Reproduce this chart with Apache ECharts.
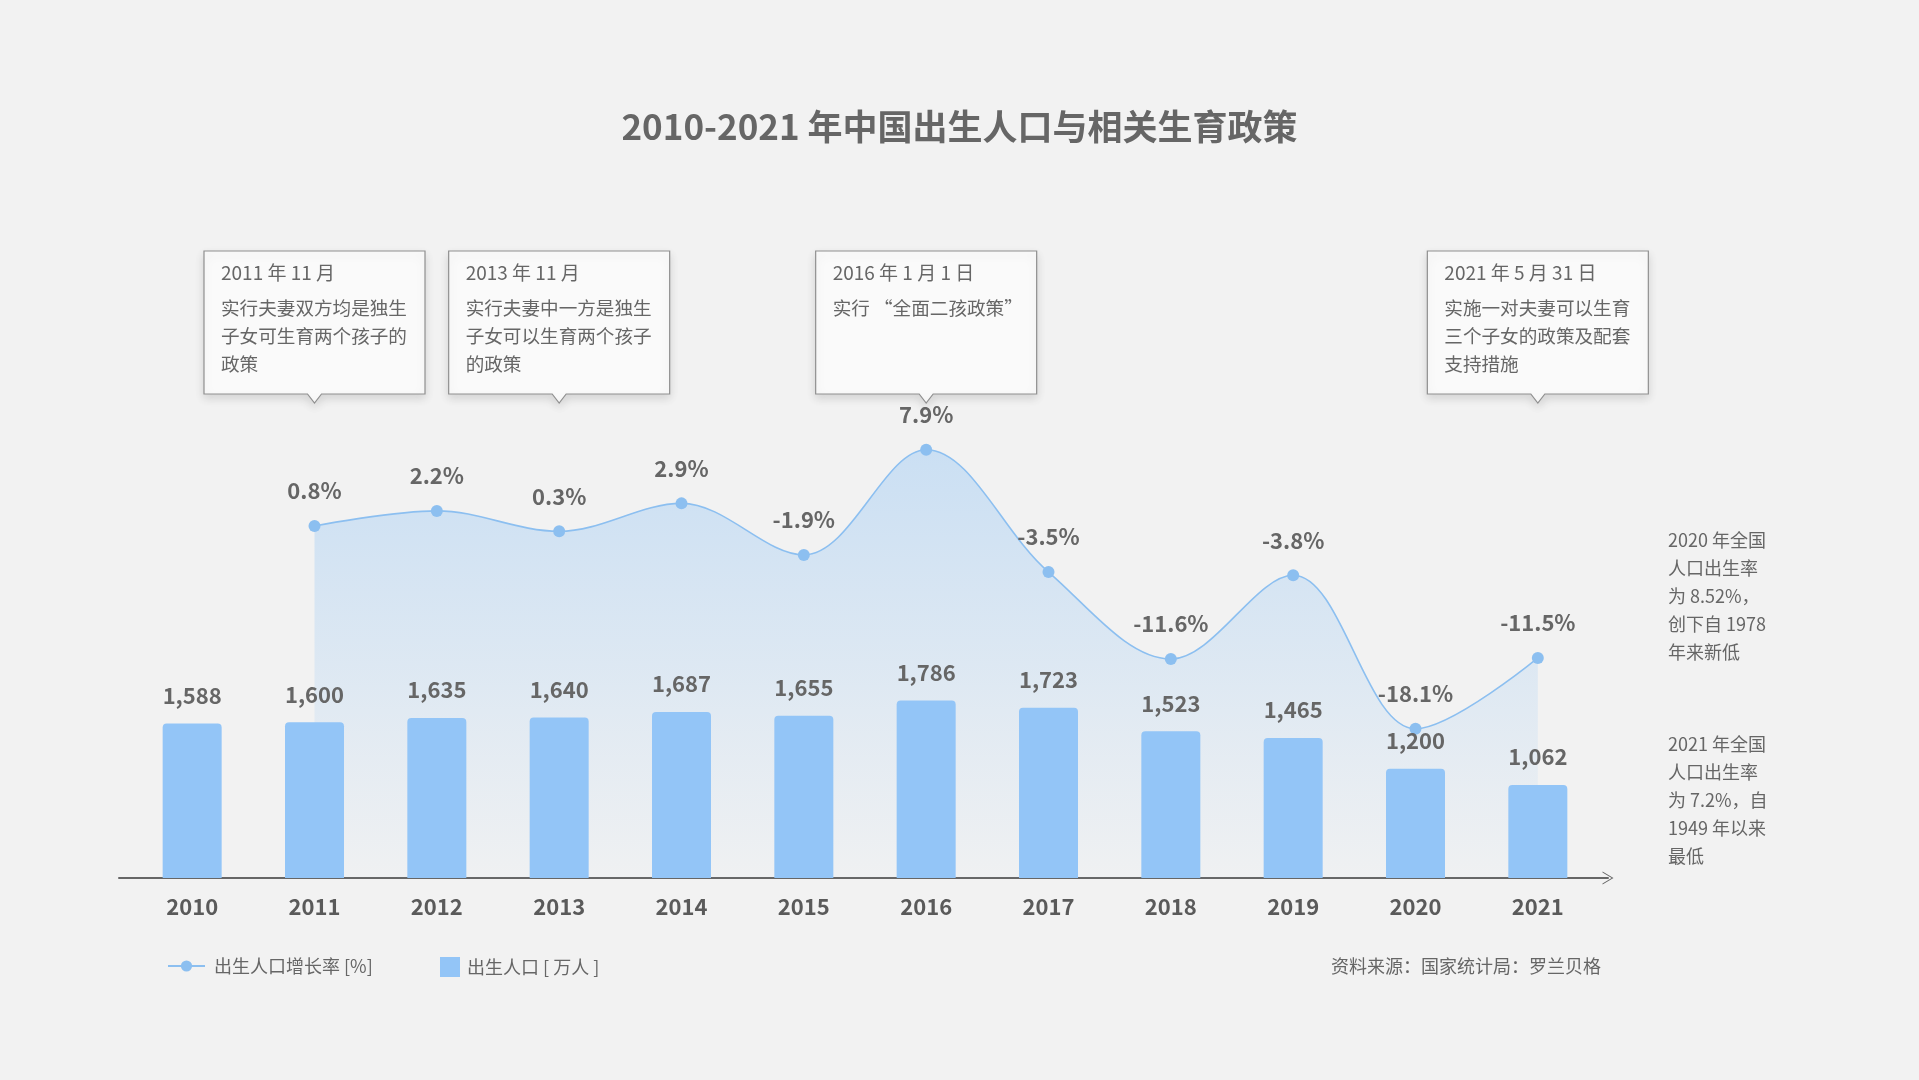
<!DOCTYPE html>
<html>
<head>
<meta charset="utf-8">
<title>2010-2021 年中国出生人口与相关生育政策</title>
<script src="https://cdn.jsdelivr.net/npm/echarts@6/dist/echarts.min.js"></script>
<style>
  html, body { margin: 0; padding: 0; background: #f2f2f2; }
  #chart { width: 1919px; height: 1080px; }
</style>
</head>
<body>
<div id="chart"></div>
<script>
// data
const years = ['2010', '2011', '2012', '2013', '2014', '2015', '2016', '2017', '2018', '2019', '2020', '2021'];
const births = [1588, 1600, 1635, 1640, 1687, 1655, 1786, 1723, 1523, 1465, 1200, 1062];
const growth = [null, 0.8, 2.2, 0.3, 2.9, -1.9, 7.9, -3.5, -11.6, -3.8, -18.1, -11.5];

// policy callouts
const policyYears = ['2011', '2013', '2016', '2021'];
const policyDates = ['2011 年 11 月', '2013 年 11 月', '2016 年 1 月 1 日', '2021 年 5 月 31 日'];
const policyTexts = [
  '实行夫妻双方均是独生\n子女可生育两个孩子的\n政策',
  '实行夫妻中一方是独生\n子女可以生育两个孩子\n的政策',
  '实行 “全面二孩政策”',
  '实施一对夫妻可以生育\n三个子女的政策及配套\n支持措施'
];

// side notes
const note2020 = ['2020 年全国', '人口出生率', '为 8.52%，', '创下自 1978', '年来新低'];
const note2021 = ['2021 年全国', '人口出生率', '为 7.2%，自', '1949 年以来', '最低'];

const FONT = '"Noto Sans CJK SC", "Noto Sans", sans-serif';
const TEXT = '#666';
const BLUE = '#93c5f7';
const LINE = '#8cbff0';

const chart = echarts.init(document.getElementById('chart'));

// callout box drawn over its year's category
function renderPolicy(params, api) {
  const i = params.dataIndex;
  const cx = api.coord([api.value(0), 0])[0];
  const w = 221, h = 143;
  const top = params.coordSys.y + 60;
  const l = cx - w / 2, b = top + h;
  return {
    type: 'group',
    children: [
      {
        type: 'polygon',
        shape: { points: [[l, top], [l + w, top], [l + w, b], [cx + 7, b], [cx, b + 9], [cx - 7, b], [l, b]] },
        style: {
          fill: '#fafafa', stroke: '#8f8f8f', lineWidth: 1.2,
          shadowBlur: 10, shadowColor: 'rgba(0,0,0,0.13)', shadowOffsetY: 4
        }
      },
      {
        type: 'text',
        style: {
          text: policyDates[i], x: l + 17, y: top + 12,
          fill: TEXT, fontSize: 19, fontFamily: FONT, align: 'left', verticalAlign: 'top'
        }
      },
      {
        type: 'text',
        style: {
          text: policyTexts[i], x: l + 17, y: top + 43, lineHeight: 28,
          fill: TEXT, fontSize: 18.6, fontFamily: FONT, align: 'left', verticalAlign: 'top'
        }
      }
    ]
  };
}

const option = {
  backgroundColor: '#f2f2f2',
  textStyle: { fontFamily: FONT },
  animation: false,
  title: {
    text: '2010-2021 年中国出生人口与相关生育政策',
    left: 'center',
    top: 104,
    textStyle: { fontSize: 35, fontWeight: 'bold', color: TEXT, fontFamily: FONT }
  },
  legend: [
    {
      data: ['出生人口增长率 [%]'],
      left: 162, top: 952,
      itemWidth: 37, itemHeight: 14,
      textStyle: { fontSize: 18, color: TEXT, fontFamily: FONT, padding: [0, 0, 0, 4] }
    },
    {
      data: ['出生人口 [ 万人 ]'],
      left: 435, top: 952,
      icon: 'rect',
      itemWidth: 20, itemHeight: 20,
      textStyle: { fontSize: 18, color: TEXT, fontFamily: FONT, padding: [0, 0, 0, 2] }
    }
  ],
  grid: [
    { left: 131, right: 320, top: 191, bottom: 202 },
    { left: 119, right: 311, top: 191, bottom: 202 }
  ],
  xAxis: [
    {
      type: 'category',
      gridIndex: 0,
      data: years,
      axisLine: { show: false },
      axisTick: { show: false },
      axisLabel: { margin: 18, fontSize: 22, fontWeight: 'bold', color: '#5a5a5a', fontFamily: FONT }
    },
    {
      // baseline with the arrow at its end
      type: 'value',
      gridIndex: 1,
      min: 0, max: 1,
      axisLine: {
        show: true,
        symbol: ['none', 'path://M0,12 L7,0 L14,12 L13,12 L7,2 L1,12 Z'],
        symbolSize: [14, 11],
        lineStyle: { color: '#666', width: 2 }
      },
      axisTick: { show: false },
      axisLabel: { show: false },
      splitLine: { show: false }
    }
  ],
  yAxis: [
    { type: 'value', gridIndex: 0, min: 265, max: 6150, show: false, splitLine: { show: false } },
    { type: 'value', gridIndex: 0, min: -32, max: 32, show: false, splitLine: { show: false } },
    { type: 'value', gridIndex: 1, min: 0, max: 1, show: false, splitLine: { show: false } }
  ],
  series: [
    {
      name: '出生人口 [ 万人 ]',
      type: 'bar',
      xAxisIndex: 0,
      yAxisIndex: 0,
      data: births,
      barWidth: 59,
      z: 3,
      itemStyle: { color: BLUE, borderRadius: [4, 4, 0, 0] },
      label: {
        show: true,
        position: 'top',
        distance: 17,
        fontSize: 22,
        fontWeight: 'bold',
        color: TEXT,
        fontFamily: FONT,
        formatter: p => p.value.toLocaleString('en-US')
      }
    },
    {
      name: '出生人口增长率 [%]',
      type: 'line',
      xAxisIndex: 0,
      yAxisIndex: 1,
      data: growth,
      smooth: 0.35,
      z: 2,
      symbol: 'circle',
      symbolSize: 12,
      itemStyle: { color: LINE },
      lineStyle: { color: LINE, width: 1.6 },
      areaStyle: {
        origin: 'start',
        color: new echarts.graphic.LinearGradient(0, 0, 0, 1, [
          { offset: 0, color: 'rgba(145,196,245,0.58)' },
          { offset: 1, color: 'rgba(145,196,245,0.04)' }
        ])
      },
      label: {
        show: true,
        position: 'top',
        distance: 18,
        fontSize: 22,
        fontWeight: 'bold',
        color: TEXT,
        fontFamily: FONT,
        formatter: p => p.value.toFixed(1) + '%'
      }
    },
    {
      name: 'policy',
      type: 'custom',
      xAxisIndex: 0,
      yAxisIndex: 1,
      data: policyYears.map(y => [y, 0]),
      encode: { x: 0, y: 1 },
      clip: false,
      z: 5,
      renderItem: renderPolicy
    }
  ],
  graphic: [
    {
      type: 'text', left: 1668, top: 526,
      style: { text: note2020.join('\n'), fontSize: 18, lineHeight: 28, fill: TEXT, fontFamily: FONT }
    },
    {
      type: 'text', left: 1668, top: 730,
      style: { text: note2021.join('\n'), fontSize: 18, lineHeight: 28, fill: TEXT, fontFamily: FONT }
    },
    {
      type: 'text', right: 318, top: 957,
      style: { text: '资料来源：国家统计局：罗兰贝格', fontSize: 18, fill: TEXT, fontFamily: FONT }
    }
  ]
};

chart.setOption(option);
window.addEventListener('resize', chart.resize);
</script>
</body>
</html>
